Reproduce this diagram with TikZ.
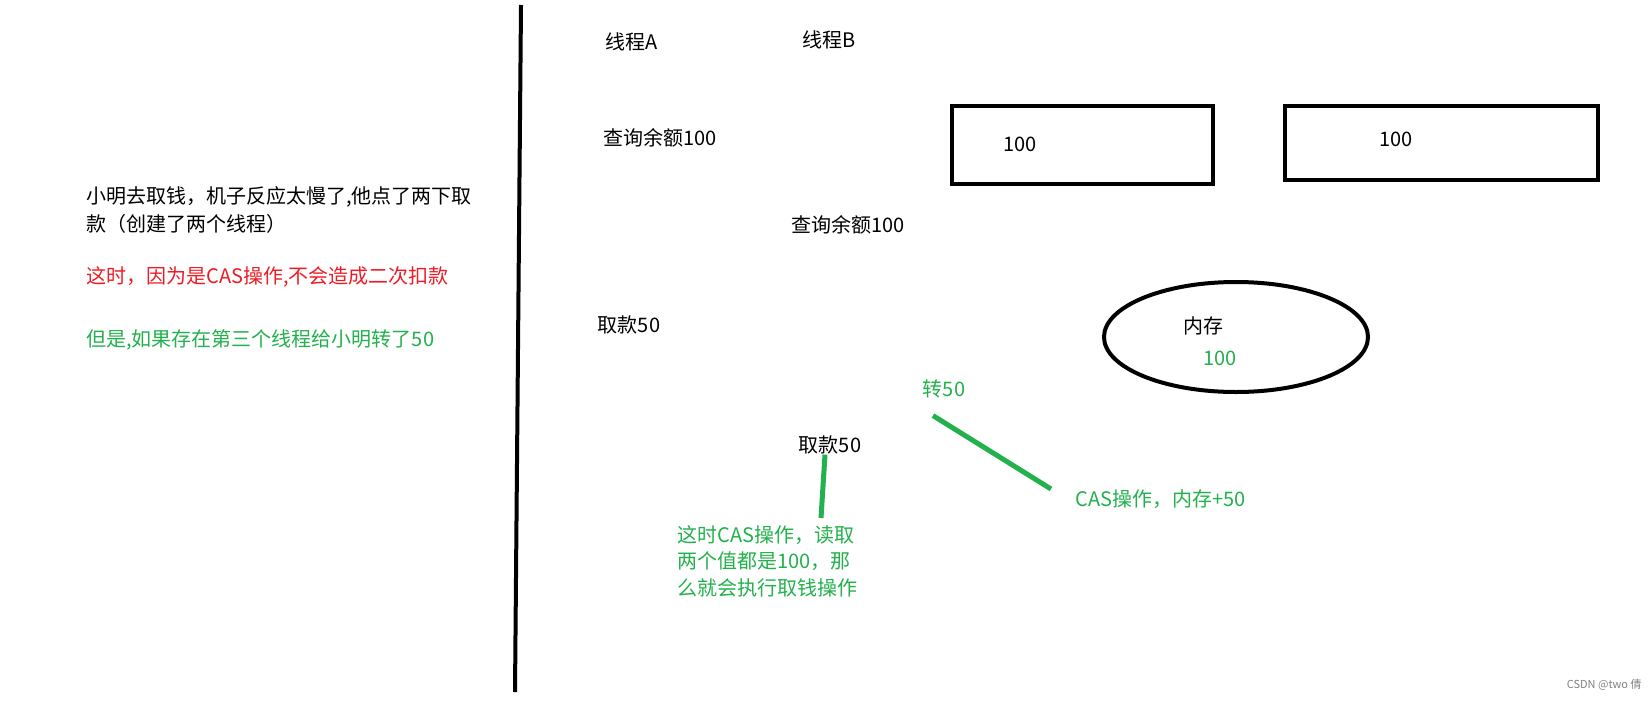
\documentclass[tikz,border=0pt]{standalone}
\usepackage{fontspec}
\setmainfont{Noto Sans CJK SC}
\usetikzlibrary{shapes.geometric}
\definecolor{paintgreen}{RGB}{34,177,76}
\definecolor{paintred}{RGB}{237,28,36}
\tikzset{
  txt/.style={inner sep=0pt, font=\fontsize{10}{14}\selectfont, align=left},
  gtxt/.style={txt, text=paintgreen},
  box/.style={draw, line width=2pt, inner sep=0pt},
  greenline/.style={draw=paintgreen, line width=2.5pt},
}

\begin{document}
\begin{tikzpicture}[x=0.5pt,y=-0.5pt]
\useasboundingbox (0,0) rectangle (1650,702);
% divider
\coordinate (divtop) at (521,5);
\coordinate (divbot) at (515,692);
\draw[line width=2pt] (divtop) -- (divbot);

% left side notes
\node[txt, anchor=north west] (story) at (86,186)
  {小明去取钱，机子反应太慢了,他点了两下取\\款（创建了两个线程）};
\node[txt, text=paintred, anchor=west] (casnote) at (86,277)
  {这时，因为是CAS操作,不会造成二次扣款};
\node[gtxt, anchor=west] (third) at (86,340)
  {但是,如果存在第三个线程给小明转了50};

% thread A
\node[txt] (threadA) at (632,42) {线程A};
\node[txt] (queryA) at (660,138) {查询余额100};
\node[txt] (takeA) at (629,325) {取款50};

% thread B
\node[txt] (threadB) at (829,40) {线程B};
\node[txt] (queryB) at (848,225) {查询余额100};
\node[txt] (takeB) at (830,445) {取款50};

% copies and memory
\node[box, minimum width=130.5pt, minimum height=39pt] (copyA) at (1082.5,145) {};
\node[txt] (valA) at (1020,144) {100};
\node[box, minimum width=156.5pt, minimum height=37pt] (copyB) at (1441.5,143) {};
\node[txt] (valB) at (1396,139) {100};
\node[box, ellipse, minimum width=132pt, minimum height=55pt] (mem) at (1236,337) {};
\node[txt] (memlabel) at (1203,326) {内存};
\node[gtxt] (memval) at (1220,358) {100};

% third thread
\node[gtxt] (transfer) at (944,389) {转50};
\node[gtxt, anchor=west] (casadd) at (1075,499) {CAS操作，内存+50};
\node[gtxt, anchor=north west, font=\fontsize{10}{13.25}\selectfont] (readnote) at (677,525)
  {这时CAS操作，读取\\两个值都是100，那\\么就会执行取钱操作};

\draw[greenline] ([shift={(-5.5pt,-8.5pt)}]transfer.south) -- ([shift={(-12pt,5pt)}]casadd.west);
\draw[greenline] ([xshift=-2.5pt]takeB.south) -- ([shift={(72pt,3.5pt)}]readnote.north west);

\node[inner sep=0pt, text=gray, font=\fontsize{5.5}{6}\selectfont, anchor=east] (mark) at (1642,685) {CSDN @two 倩};
\end{tikzpicture}
\end{document}
